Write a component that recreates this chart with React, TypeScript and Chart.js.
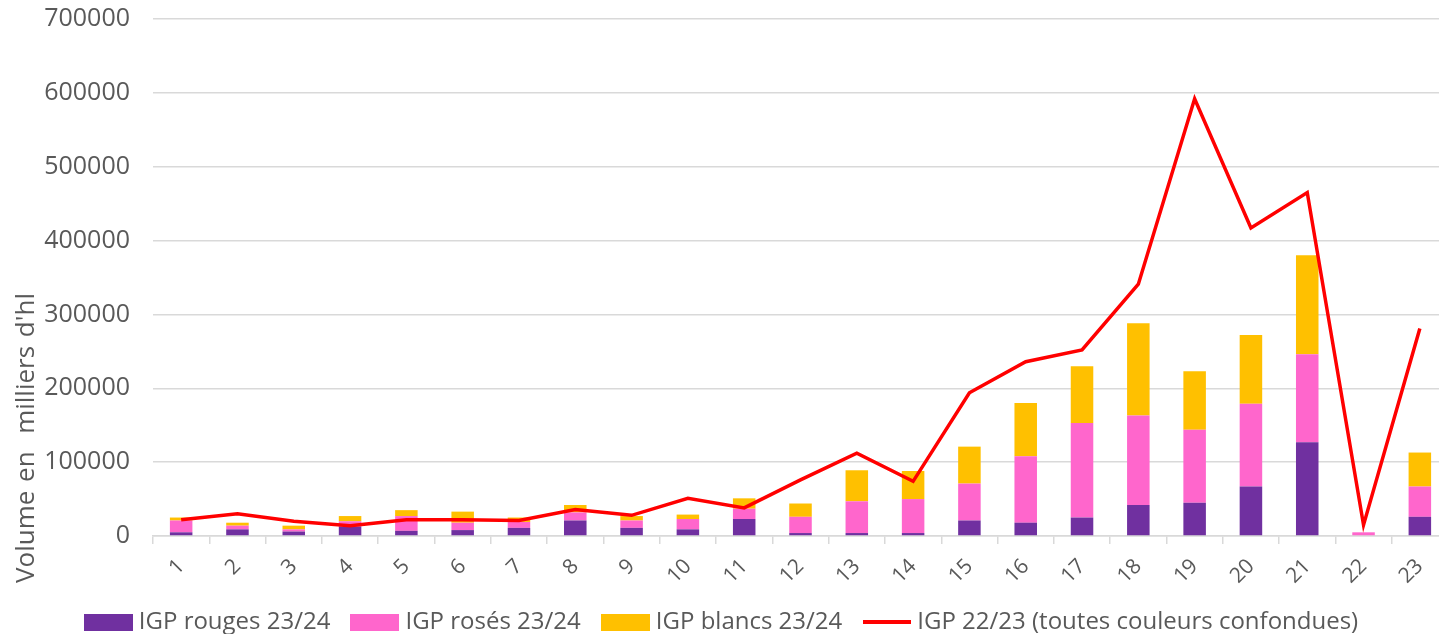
import React, { useEffect, useRef } from 'react';
import { Chart, registerables } from 'chart.js';

Chart.register(...registerables);

const categories = ['1','2','3','4','5','6','7','8','9','10','11','12','13','14','15','16','17','18','19','20','21','22','23'];
const seriesNames = ['IGP rouges 23/24', 'IGP rosés 23/24', 'IGP blancs 23/24', 'IGP 22/23 (toutes couleurs confondues)'];
const rouges = [5000, 9000, 6000, 13000, 7000, 8000, 11000, 21000, 11000, 9000, 23000, 4000, 4000, 4000, 21000, 18000, 25000, 42000, 45000, 67000, 127000, 0, 26000];
const roses = [16000, 5000, 3000, 7000, 20000, 10000, 8000, 11000, 10000, 14000, 14000, 22000, 43000, 46000, 50000, 90000, 128000, 121000, 99000, 112000, 119000, 5000, 41000];
const blancs = [4000, 4000, 5000, 7000, 8000, 15000, 6000, 10000, 6000, 6000, 14000, 18000, 42000, 38000, 50000, 72000, 77000, 125000, 79000, 93000, 134000, 0, 46000];
const igp2223 = [22000, 30000, 20000, 14000, 22000, 22000, 21000, 36000, 28000, 51000, 38000, 76000, 112000, 74000, 194000, 236000, 252000, 341000, 592000, 417000, 465000, 15000, 281000];
const yTitle = "Volume en  milliers d'hl";

const FONT = '"Open Sans"';
const TEXT = '#595959';

export default function App() {
  const ref = useRef<HTMLCanvasElement>(null);

  useEffect(() => {
    const makeIcon = (color: string, w: number, h: number) => {
      const c = document.createElement('canvas');
      c.width = w; c.height = h;
      const g = c.getContext('2d')!;
      g.fillStyle = color;
      g.fillRect(0, 0, w, h);
      return c;
    };
    const icons = [
      makeIcon('#7030A0', 49, 17),
      makeIcon('#FF66CC', 49, 17),
      makeIcon('#FFC000', 49, 17),
      makeIcon('#FF0000', 48, 4),
    ];

    const titlePlugin = {
      id: 'ytitle',
      afterDraw(chart: any) {
        const ctx = chart.ctx;
        ctx.save();
        ctx.translate(27, 438);
        ctx.rotate(-Math.PI / 2);
        ctx.font = `26px ${FONT}`;
        try { (ctx as any).wordSpacing = '2px'; } catch (e) { /* ignore */ }
        ctx.fillStyle = TEXT;
        ctx.textAlign = 'center';
        ctx.textBaseline = 'middle';
        ctx.fillText(yTitle, 0, 0);
        ctx.restore();
      },
    };

    const barCommon = { type: 'bar' as const, stack: 's', order: 1, barPercentage: 0.4, categoryPercentage: 1, borderWidth: 0 };

    const chart = new Chart(ref.current!, {
      type: 'bar',
      data: {
        labels: categories,
        datasets: [
          { ...barCommon, label: seriesNames[0], data: rouges, backgroundColor: '#7030A0' },
          { ...barCommon, label: seriesNames[1], data: roses, backgroundColor: '#FF66CC' },
          { ...barCommon, label: seriesNames[2], data: blancs, backgroundColor: '#FFC000' },
          { type: 'line', label: seriesNames[3], data: igp2223, borderColor: '#FF0000', backgroundColor: '#FF0000', borderWidth: 3.5, pointRadius: 0, fill: false, tension: 0, order: 0, stack: 'l' } as any,
        ],
      },
      options: {
        responsive: false,
        animation: false,
        layout: { padding: { top: 0, right: 2, left: 0, bottom: -10 } },
        plugins: {
          tooltip: { enabled: false },
          legend: {
            position: 'bottom',
            labels: {
              usePointStyle: true,
              pointStyleWidth: 37,
              boxHeight: 17,
              padding: 26,
              color: TEXT,
              font: { family: FONT, size: 24 },
              generateLabels: (ch: any) => ch.data.datasets.map((ds: any, i: number) => ({
                text: ds.label,
                pointStyle: icons[i],
                fillStyle: 'transparent',
                strokeStyle: 'transparent',
                lineWidth: 0,
                hidden: false,
                datasetIndex: i,
                fontColor: TEXT,
              })),
            },
          },
        },
        scales: {
          x: {
            stacked: true,
            grid: { display: true, drawOnChartArea: false, offset: true, tickLength: 8, color: '#d9d9d9', lineWidth: 1.5 },
            border: { color: '#d9d9d9', width: 1.5 },
            ticks: { minRotation: 45, maxRotation: 45, color: TEXT, font: { family: FONT, size: 21 }, padding: 10 },
            afterFit: (s: any) => { s.height = 48; },
          },
          y: {
            stacked: true,
            min: 0,
            max: 700000,
            ticks: { stepSize: 100000, color: TEXT, font: { family: FONT, size: 25 }, padding: 23, callback: (v: any) => String(v) },
            grid: { color: '#d9d9d9', lineWidth: 1.5, drawTicks: false },
            border: { display: false },
            afterFit: (s: any) => { s.width = 153; s.paddingTop = 19; s.paddingBottom = 0; },
          },
        },
      },
      plugins: [titlePlugin],
    });
    return () => chart.destroy();
  }, []);

  return (
    <div style={{ position: 'fixed', left: 0, top: 0, width: 1439, height: 634, overflow: 'hidden', background: '#fff' }}>
      <canvas ref={ref} width={1450} height={634} style={{ display: 'block' }} />
    </div>
  );
}
